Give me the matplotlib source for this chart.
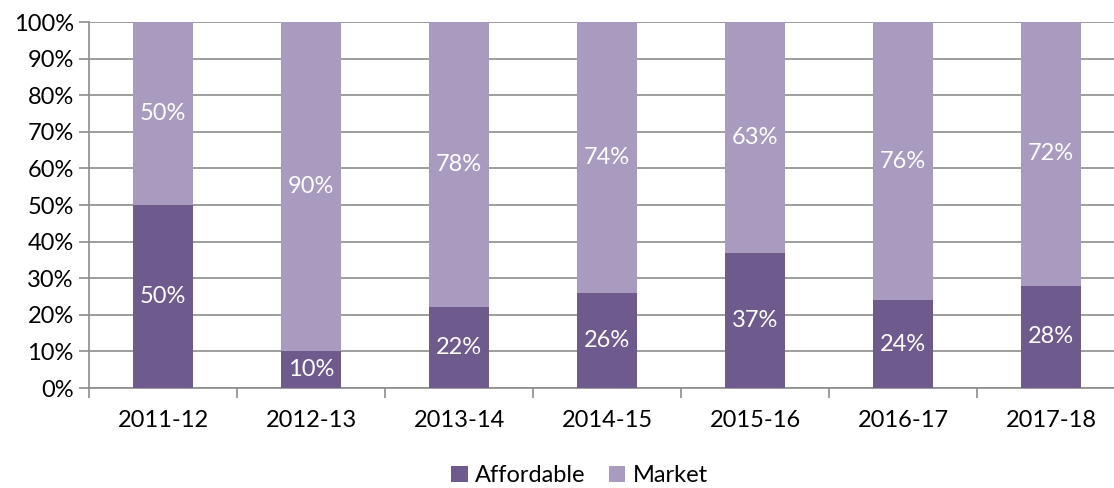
import numpy as np
import matplotlib.pyplot as plt
from matplotlib.ticker import FixedLocator

years = ['2011-12', '2012-13', '2013-14', '2014-15', '2015-16', '2016-17', '2017-18']
affordable = [50, 10, 22, 26, 37, 24, 28]
market = [50, 90, 78, 74, 63, 76, 72]

dark = '#6f5a8e'
light = '#a99bbf'

plt.rcParams['font.family'] = ['Lato', 'DejaVu Sans']

fig = plt.figure(figsize=(11.14, 4.88), dpi=100)
ax = fig.add_axes([0.0799, 0.2049, 0.930, 0.75])

x = np.arange(len(years))
b1 = ax.bar(x, affordable, width=0.4, color=dark, label='Affordable', zorder=3)
b2 = ax.bar(x, market, width=0.4, bottom=affordable, color=light, label='Market', zorder=3)

for i in range(len(years)):
    ax.text(x[i], affordable[i] / 2, '%d%%' % affordable[i], ha='center', va='center',
            color='white', fontsize=17, zorder=4)
    ax.text(x[i], affordable[i] + market[i] / 2, '%d%%' % market[i], ha='center', va='center',
            color='white', fontsize=17, zorder=4)

ax.set_xlim(-0.5, len(years) - 0.5)
ax.set_ylim(0, 100)
ax.set_yticks(np.arange(0, 101, 10))
ax.set_yticklabels(['%d%%' % v for v in range(0, 101, 10)], fontsize=17)
ax.yaxis.grid(True, color='#8c8c8c', linewidth=1.2, zorder=0)

ax.set_xticks(x)
ax.set_xticklabels(years, fontsize=17)
ax.tick_params(axis='x', length=0, pad=16)
ax.xaxis.set_minor_locator(FixedLocator(np.arange(-0.5, len(years), 1)))
ax.tick_params(axis='x', which='minor', length=7, color='#8c8c8c', width=1.2)
ax.tick_params(axis='y', length=7, color='#8c8c8c', width=1.2, pad=4)

for s in ['top', 'right']:
    ax.spines[s].set_visible(False)
ax.spines['left'].set_color('#8c8c8c')
ax.spines['left'].set_linewidth(1.2)
ax.spines['bottom'].set_color('#8c8c8c')
ax.spines['bottom'].set_linewidth(1.2)

fig.legend(handles=[b1, b2], loc='lower center', bbox_to_anchor=(0.52, -0.03), ncol=2,
           frameon=False, fontsize=17, handlelength=0.7, handleheight=0.7,
           handletextpad=0.3, columnspacing=1.0, borderaxespad=0.3)

fig.savefig('out.png', dpi=100)
